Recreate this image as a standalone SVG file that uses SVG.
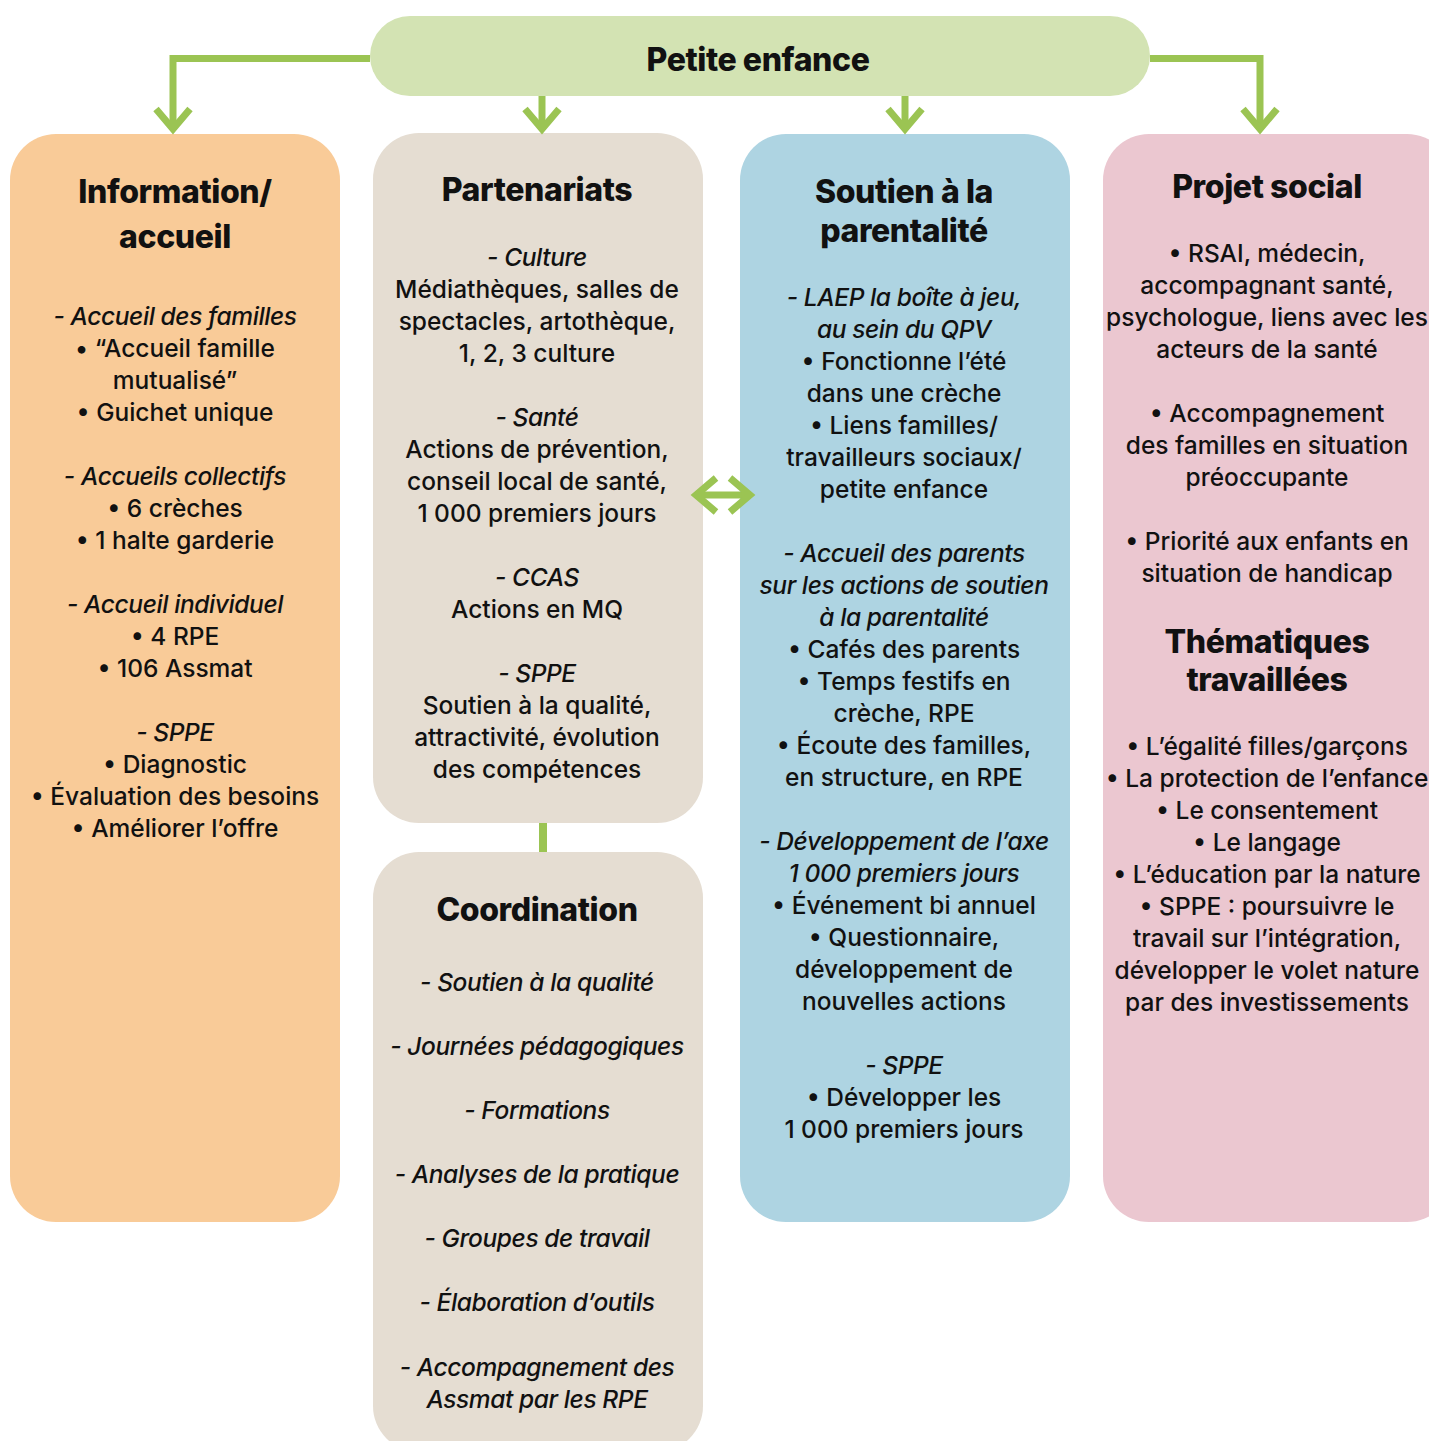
<svg xmlns="http://www.w3.org/2000/svg" width="1429" height="1441" viewBox="0 0 1429 1441">
<defs>
<marker id="chev" markerUnits="userSpaceOnUse" markerWidth="60" markerHeight="60" viewBox="-40 -30 60 60" refX="0" refY="0" orient="auto-start-reverse" overflow="visible">
<path d="M-21,-17 L-1,0 L-21,17" fill="none" stroke="#9bc453" stroke-width="7" stroke-linejoin="miter" stroke-miterlimit="10"/>
</marker>
<style>
.t{font-family:Inter,"Liberation Sans",sans-serif;font-size:24.5px;font-weight:500;fill:#111;text-anchor:middle}
.i{font-style:italic;letter-spacing:-0.4px}
.h{font-family:Inter,"Liberation Sans",sans-serif;font-size:32px;font-weight:800;fill:#111;text-anchor:middle;letter-spacing:-0.4px}
.c{fill:none;stroke:#9bc453;stroke-width:7}
</style>
</defs>
<rect width="1429" height="1441" fill="#fff"/>
<g id="petite-enfance">
<rect x="370" y="16" width="780" height="80" rx="40" fill="#d3e3b3"/>
<text class="h" x="758" y="71">Petite enfance</text>
</g>
<g id="information-accueil">
<rect x="10" y="134" width="330" height="1088" rx="46" fill="#f9cb98"/>
<text class="h" x="175" y="203">Information/</text>
<text class="h" x="175" y="248">accueil</text>
<text class="t i" x="175" y="325">- Accueil des familles</text>
<text class="t" x="175" y="357">• “Accueil famille</text>
<text class="t" x="175" y="389">mutualisé”</text>
<text class="t" x="175" y="421">• Guichet unique</text>
<text class="t i" x="175" y="485">- Accueils collectifs</text>
<text class="t" x="175" y="517">• 6 crèches</text>
<text class="t" x="175" y="549">• 1 halte garderie</text>
<text class="t i" x="175" y="613">- Accueil individuel</text>
<text class="t" x="175" y="645">• 4 RPE</text>
<text class="t" x="175" y="677">• 106 Assmat</text>
<text class="t i" x="175" y="741">- SPPE</text>
<text class="t" x="175" y="773">• Diagnostic</text>
<text class="t" x="175" y="805">• Évaluation des besoins</text>
<text class="t" x="175" y="837">• Améliorer l’offre</text>
</g>
<g id="partenariats">
<rect x="373" y="133" width="330" height="690" rx="46" fill="#e5ddd2"/>
<text class="h" x="537" y="201">Partenariats</text>
<text class="t i" x="537" y="266">- Culture</text>
<text class="t" x="537" y="298">Médiathèques, salles de</text>
<text class="t" x="537" y="330">spectacles, artothèque,</text>
<text class="t" x="537" y="362">1, 2, 3 culture</text>
<text class="t i" x="537" y="426">- Santé</text>
<text class="t" x="537" y="458">Actions de prévention,</text>
<text class="t" x="537" y="490">conseil local de santé,</text>
<text class="t" x="537" y="522">1 000 premiers jours</text>
<text class="t i" x="537" y="586">- CCAS</text>
<text class="t" x="537" y="618">Actions en MQ</text>
<text class="t i" x="537" y="682">- SPPE</text>
<text class="t" x="537" y="714">Soutien à la qualité,</text>
<text class="t" x="537" y="746">attractivité, évolution</text>
<text class="t" x="537" y="778">des compétences</text>
</g>
<g id="coordination">
<rect x="373" y="852" width="330" height="600" rx="46" fill="#e5ddd2"/>
<text class="h" x="537" y="921">Coordination</text>
<text class="t i" x="537" y="991">- Soutien à la qualité</text>
<text class="t i" x="537" y="1055">- Journées pédagogiques</text>
<text class="t i" x="537" y="1119">- Formations</text>
<text class="t i" x="537" y="1183">- Analyses de la pratique</text>
<text class="t i" x="537" y="1247">- Groupes de travail</text>
<text class="t i" x="537" y="1311">- Élaboration d’outils</text>
<text class="t i" x="537" y="1376">- Accompagnement des</text>
<text class="t i" x="537" y="1408">Assmat par les RPE</text>
</g>
<g id="soutien-parentalite">
<rect x="740" y="134" width="330" height="1088" rx="46" fill="#aed4e2"/>
<text class="h" x="904" y="203">Soutien à la</text>
<text class="h" x="904" y="242">parentalité</text>
<text class="t i" x="904" y="306">- LAEP la boîte à jeu,</text>
<text class="t i" x="904" y="338">au sein du QPV</text>
<text class="t" x="904" y="370">• Fonctionne l’été</text>
<text class="t" x="904" y="402">dans une crèche</text>
<text class="t" x="904" y="434">• Liens familles/</text>
<text class="t" x="904" y="466">travailleurs sociaux/</text>
<text class="t" x="904" y="498">petite enfance</text>
<text class="t i" x="904" y="562">- Accueil des parents</text>
<text class="t i" x="904" y="594">sur les actions de soutien</text>
<text class="t i" x="904" y="626">à la parentalité</text>
<text class="t" x="904" y="658">• Cafés des parents</text>
<text class="t" x="904" y="690">• Temps festifs en</text>
<text class="t" x="904" y="722">crèche, RPE</text>
<text class="t" x="904" y="754">• Écoute des familles,</text>
<text class="t" x="904" y="786">en structure, en RPE</text>
<text class="t i" x="904" y="850">- Développement de l’axe</text>
<text class="t i" x="904" y="882">1 000 premiers jours</text>
<text class="t" x="904" y="914">• Événement bi annuel</text>
<text class="t" x="904" y="946">• Questionnaire,</text>
<text class="t" x="904" y="978">développement de</text>
<text class="t" x="904" y="1010">nouvelles actions</text>
<text class="t i" x="904" y="1074">- SPPE</text>
<text class="t" x="904" y="1106">• Développer les</text>
<text class="t" x="904" y="1138">1 000 premiers jours</text>
</g>
<g id="projet-social">
<rect x="1103" y="134" width="350" height="1088" rx="46" fill="#ebc7d0"/>
<text class="h" x="1267" y="198">Projet social</text>
<text class="t" x="1267" y="262">• RSAI, médecin,</text>
<text class="t" x="1267" y="294">accompagnant santé,</text>
<text class="t" x="1267" y="326">psychologue, liens avec les</text>
<text class="t" x="1267" y="358">acteurs de la santé</text>
<text class="t" x="1267" y="422">• Accompagnement</text>
<text class="t" x="1267" y="454">des familles en situation</text>
<text class="t" x="1267" y="486">préoccupante</text>
<text class="t" x="1267" y="550">• Priorité aux enfants en</text>
<text class="t" x="1267" y="582">situation de handicap</text>
<text class="h" x="1267" y="653">Thématiques</text>
<text class="h" x="1267" y="691">travaillées</text>
<text class="t" x="1267" y="755">• L’égalité filles/garçons</text>
<text class="t" x="1267" y="787">• La protection de l’enfance</text>
<text class="t" x="1267" y="819">• Le consentement</text>
<text class="t" x="1267" y="851">• Le langage</text>
<text class="t" x="1267" y="883">• L’éducation par la nature</text>
<text class="t" x="1267" y="915">• SPPE : poursuivre le</text>
<text class="t" x="1267" y="947">travail sur l’intégration,</text>
<text class="t" x="1267" y="979">développer le volet nature</text>
<text class="t" x="1267" y="1011">par des investissements</text>
</g>
<g id="connectors">
<path class="c" d="M370,58.5 H173 V130" marker-end="url(#chev)"/>
<path class="c" d="M542,96 V130" marker-end="url(#chev)"/>
<path class="c" d="M905,96 V130" marker-end="url(#chev)"/>
<path class="c" d="M1150,58.5 H1260 V130" marker-end="url(#chev)"/>
<path d="M543,823 V852" stroke="#9bc453" stroke-width="8" fill="none"/>
<path class="c" d="M695,495 H751" marker-start="url(#chev)" marker-end="url(#chev)"/>
</g>
</svg>
